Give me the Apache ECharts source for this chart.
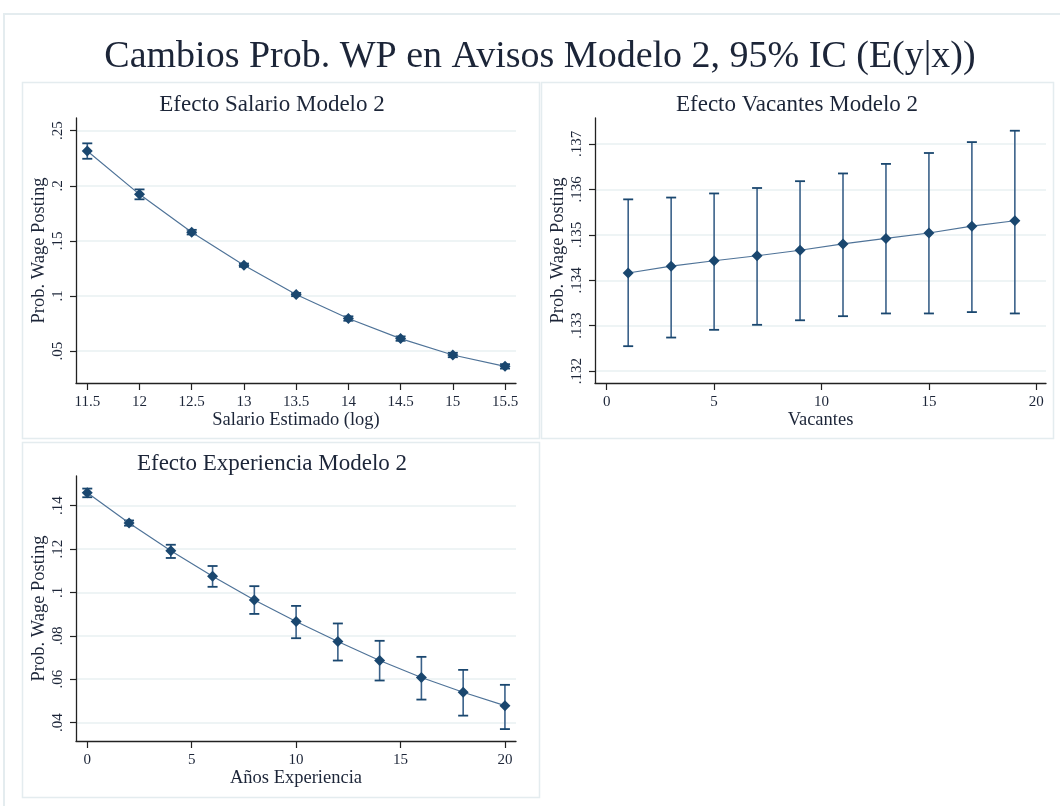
<!DOCTYPE html>
<html>
<head>
<meta charset="utf-8">
<script src="https://cdn.jsdelivr.net/npm/echarts@6/dist/echarts.min.js"></script>
<style>
html,body{margin:0;padding:0;background:#fff;}
#chart{width:1060px;height:806px;}
</style>
</head>
<body>
<div id="chart"></div>
<script>
// ---- Data ----
const salarioX = [11.5, 12, 12.5, 13, 13.5, 14, 14.5, 15, 15.5];
const salarioY = [0.2315, 0.1922, 0.1579, 0.1279, 0.1013, 0.0795, 0.0613, 0.0464, 0.0361];
const salarioLo = [0.2245, 0.1877, 0.1558, 0.1264, 0.0998, 0.0775, 0.0593, 0.0444, 0.0341];
const salarioHi = [0.2385, 0.1967, 0.1600, 0.1294, 0.1028, 0.0815, 0.0633, 0.0484, 0.0381];
const salarioXTicks = [11.5, 12, 12.5, 13, 13.5, 14, 14.5, 15, 15.5];
const salarioYTicks = [0.05, 0.1, 0.15, 0.2, 0.25];
const salarioYLabels = ['.05', '.1', '.15', '.2', '.25'];

const vacX = [1, 3, 5, 7, 9, 11, 13, 15, 17, 19];
const vacY = [0.13416, 0.13431, 0.13443, 0.13454, 0.13466, 0.13480, 0.13492, 0.13504, 0.13519, 0.13531];
const vacLo = [0.13255, 0.13274, 0.13291, 0.13302, 0.13312, 0.13321, 0.13327, 0.13327, 0.13330, 0.13327];
const vacHi = [0.13578, 0.13582, 0.13591, 0.13603, 0.13618, 0.13635, 0.13656, 0.13680, 0.13704, 0.13729];
const vacXTicks = [0, 5, 10, 15, 20];
const vacYTicks = [0.132, 0.133, 0.134, 0.135, 0.136, 0.137];
const vacYLabels = ['.132', '.133', '.134', '.135', '.136', '.137'];

const expX = [0, 2, 4, 6, 8, 10, 12, 14, 16, 18, 20];
const expY = [0.1460, 0.1320, 0.1192, 0.1075, 0.0965, 0.0866, 0.0774, 0.0686, 0.0608, 0.0540, 0.0478];
const expLo = [0.1439, 0.1308, 0.1159, 0.1026, 0.0901, 0.0789, 0.0686, 0.0594, 0.0506, 0.0432, 0.0370];
const expHi = [0.1479, 0.1332, 0.1220, 0.1122, 0.1029, 0.0938, 0.0857, 0.0777, 0.0703, 0.0643, 0.0574];
const expXTicks = [0, 5, 10, 15, 20];
const expYTicks = [0.04, 0.06, 0.08, 0.1, 0.12, 0.14];
const expYLabels = ['.04', '.06', '.08', '.1', '.12', '.14'];

const mainTitle = 'Cambios Prob. WP en Avisos Modelo 2, 95% IC (E(y|x))';
const panelTitles = ['Efecto Salario Modelo 2', 'Efecto Vacantes Modelo 2', 'Efecto Experiencia Modelo 2'];
const xNames = ['Salario Estimado (log)', 'Vacantes', 'Años Experiencia'];
const yName = 'Prob. Wage Posting';

// ---- Style ----
const FONT = '"Liberation Serif", "DejaVu Serif", serif';
const NAVY = '#1a476f';
const TXT = '#1c2538';
const GRIDC = '#e9f0f2';
const BORDER = '#e4ecef';

const panels = [
  {grid: {left: 76, top: 118, width: 440, height: 265}, xr: [11.392, 15.605], yr: [0.021, 0.2615],
   x: salarioX, y: salarioY, lo: salarioLo, hi: salarioHi, xt: salarioXTicks, yt: salarioYTicks, yl: salarioYLabels},
  {grid: {left: 595, top: 118, width: 451, height: 265}, xr: [-0.545, 20.45], yr: [0.13174, 0.13757],
   x: vacX, y: vacY, lo: vacLo, hi: vacHi, xt: vacXTicks, yt: vacYTicks, yl: vacYLabels},
  {grid: {left: 76, top: 476, width: 440, height: 265}, xr: [-0.54, 20.53], yr: [0.0315, 0.1537],
   x: expX, y: expY, lo: expLo, hi: expHi, xt: expXTicks, yt: expYTicks, yl: expYLabels}
];

const grids = [], xAxes = [], yAxes = [], series = [];
panels.forEach((p, i) => {
  grids.push(Object.assign({containLabel: false}, p.grid));
  xAxes.push({
    type: 'value', gridIndex: i, min: p.xr[0], max: p.xr[1],
    name: xNames[i], nameLocation: 'middle', nameGap: 27,
    nameTextStyle: {fontFamily: FONT, fontSize: 18.5, color: TXT},
    axisLine: {show: true, onZero: false, lineStyle: {color: '#222', width: 1.3}},
    axisTick: {show: true, length: 7, lineStyle: {color: '#222', width: 1.2}, customValues: p.xt},
    axisLabel: {fontFamily: FONT, fontSize: 15, color: TXT, margin: 12, customValues: p.xt,
      formatter: v => String(v)},
    splitLine: {show: false}
  });
  yAxes.push({
    type: 'value', gridIndex: i, min: p.yr[0], max: p.yr[1],
    name: yName, nameLocation: 'middle', nameGap: 27,
    nameTextStyle: {fontFamily: FONT, fontSize: 18.5, color: TXT},
    axisLine: {show: true, onZero: false, lineStyle: {color: '#222', width: 1.3}},
    axisTick: {show: true, length: 6, lineStyle: {color: '#222', width: 1.2}, customValues: p.yt},
    axisLabel: {fontFamily: FONT, fontSize: 15, color: TXT, margin: 10, rotate: 90, customValues: p.yt,
      formatter: v => { const k = p.yt.findIndex(t => Math.abs(t - v) < 1e-9); return k >= 0 ? p.yl[k] : ''; }},
    splitLine: {show: true, lineStyle: {color: GRIDC, width: 1.5}}
  });
  // error bars
  const ebData = p.x.map((xv, k) => [xv, p.lo[k], p.hi[k]]);
  series.push({
    type: 'custom', xAxisIndex: i, yAxisIndex: i, z: 3, silent: true,
    data: ebData,
    renderItem: function (params, api) {
      const xv = api.value(0);
      const lo = api.coord([xv, api.value(1)]);
      const hi = api.coord([xv, api.value(2)]);
      const cap = 5;
      const st = {stroke: '#3a6189', lineWidth: 1.6, fill: null};
      return {
        type: 'group',
        children: [
          {type: 'line', shape: {x1: lo[0], y1: lo[1], x2: hi[0], y2: hi[1]}, style: st},
          {type: 'line', shape: {x1: lo[0] - cap, y1: lo[1], x2: lo[0] + cap, y2: lo[1]}, style: {stroke: NAVY, lineWidth: 1.8}},
          {type: 'line', shape: {x1: hi[0] - cap, y1: hi[1], x2: hi[0] + cap, y2: hi[1]}, style: {stroke: NAVY, lineWidth: 1.8}}
        ]
      };
    }
  });
  series.push({
    type: 'line', xAxisIndex: i, yAxisIndex: i, z: 4, silent: true,
    data: p.x.map((xv, k) => [xv, p.y[k]]),
    symbol: 'diamond', symbolSize: 11, showSymbol: true,
    lineStyle: {color: '#4f7398', width: 1.2},
    itemStyle: {color: NAVY, borderWidth: 0},
    animation: false
  });
});

const titles = [
  {text: mainTitle, left: 535, top: 33, textAlign: 'center', textStyle: {fontFamily: FONT, fontSize: 38, fontWeight: 'normal', color: TXT}},
  {text: panelTitles[0], left: 267, top: 88, textAlign: 'center', textStyle: {fontFamily: FONT, fontSize: 23, fontWeight: 'normal', color: TXT}},
  {text: panelTitles[1], left: 792, top: 88, textAlign: 'center', textStyle: {fontFamily: FONT, fontSize: 23, fontWeight: 'normal', color: TXT}},
  {text: panelTitles[2], left: 267, top: 447, textAlign: 'center', textStyle: {fontFamily: FONT, fontSize: 23, fontWeight: 'normal', color: TXT}}
];

const chart = echarts.init(document.getElementById('chart'), null, {renderer: 'canvas'});
chart.setOption({
  backgroundColor: '#ffffff',
  animation: false,
  title: titles,
  graphic: [
    {type: 'rect', shape: {x: 4, y: 14, width: 1060, height: 800}, style: {fill: null, stroke: BORDER, lineWidth: 2}, silent: true, z: -10},
    {type: 'rect', shape: {x: 22.5, y: 82.5, width: 517, height: 356}, style: {fill: null, stroke: BORDER, lineWidth: 1.5}, silent: true, z: -10},
    {type: 'rect', shape: {x: 541.5, y: 82.5, width: 512, height: 356}, style: {fill: null, stroke: BORDER, lineWidth: 1.5}, silent: true, z: -10},
    {type: 'rect', shape: {x: 22.5, y: 442.5, width: 517, height: 355}, style: {fill: null, stroke: BORDER, lineWidth: 1.5}, silent: true, z: -10}
  ],
  grid: grids,
  xAxis: xAxes,
  yAxis: yAxes,
  series: series
});
</script>
</body>
</html>
